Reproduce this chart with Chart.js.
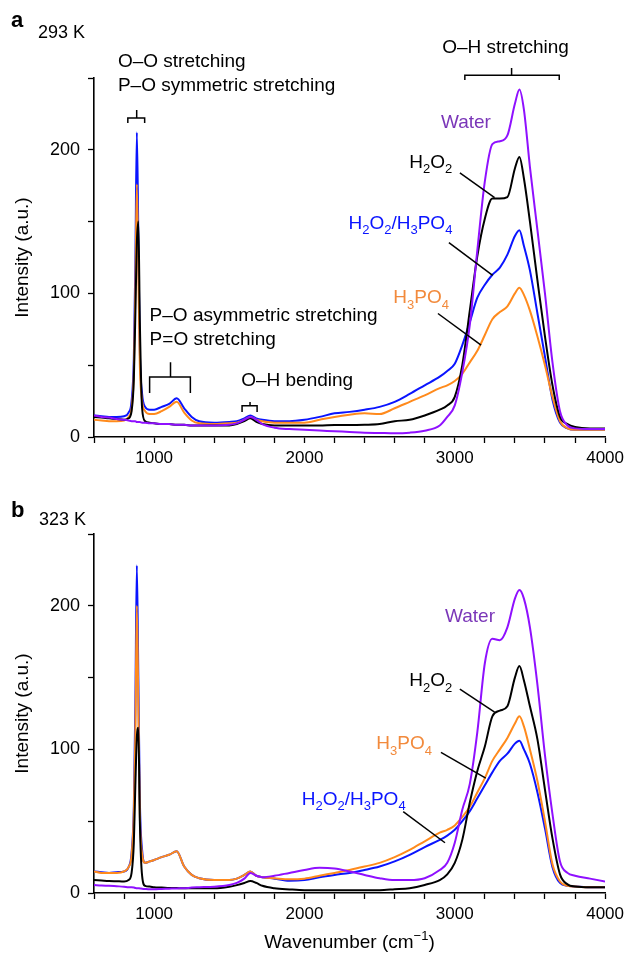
<!DOCTYPE html>
<html>
<head>
<meta charset="utf-8">
<script src="https://cdn.jsdelivr.net/npm/chart.js@4.4.0/dist/chart.umd.min.js"></script>
<style>
  html, body { margin: 0; padding: 0; background: #fff; }
  #wrap { position: relative; width: 629px; height: 955px; }
  .panel { position: absolute; left: 0; width: 629px; }
  #pa { top: 0; height: 480px; }
  #pb { top: 480px; height: 475px; }
</style>
</head>
<body>
<div id="wrap">
  <div class="panel" id="pa"><canvas id="ca"></canvas></div>
  <div class="panel" id="pb"><canvas id="cb"></canvas></div>
</div>
<script>
// wavenumber grid (cm-1), shared by every series
const wavenumber = [
  600, 650, 700, 750, 800, 830, 850, 865, 875, 885,
  895, 905, 920, 940, 970, 1000, 1050, 1100, 1150, 1200,
  1250, 1300, 1400, 1500, 1550, 1600, 1640, 1680, 1720, 1800,
  1900, 2000, 2100, 2200, 2300, 2400, 2500, 2600, 2700, 2800,
  2900, 2950, 3000, 3050, 3100, 3150, 3200, 3250, 3300, 3350,
  3400, 3430, 3460, 3500, 3550, 3600, 3650, 3700, 3750, 3800, 3900, 4000
];

// 293 K
const water293 = [
  15, 14, 13.5, 12.5, 12, 11.5, 11, 11, 11, 10.5,
  10.5, 10.5, 10, 10, 9.5, 9.5, 9, 9, 8.5, 8.5,
  8, 8, 8, 8.5, 9.5, 12, 14, 12, 9, 6.5,
  5.5, 5, 4.5, 4, 3.5, 3, 2.8, 2.6, 3, 4.4,
  8, 14, 22, 45, 78, 130, 178, 204, 206, 210,
  232, 242, 228, 188, 144, 100, 52, 18, 8, 6, 5.5, 5.5
];
const h2o2_293 = [
  14, 13.5, 13, 12.5, 12, 13, 18, 40, 85, 135,
  150, 80, 20, 11, 10, 9.5, 9, 9, 8.5, 8.5,
  8, 8, 8, 8, 9, 11, 13, 10.5, 9, 8,
  8, 8, 8, 8.3, 8.3, 8.5, 9, 11, 12, 15,
  19, 22, 28, 50, 88, 126, 152, 166, 166, 167,
  187, 195, 180, 150, 109, 70, 36, 14, 9, 7, 6, 6
];
const mix293 = [
  15, 14.5, 14, 14, 14.5, 17, 25, 55, 120, 212,
  140, 60, 30, 21, 19, 19, 21, 23, 27, 20,
  14, 11, 10, 10.5, 11, 13, 15, 13, 12, 11,
  11, 12, 14, 16.5, 17.5, 19, 21, 24.5, 30, 36,
  42, 46, 51, 64, 80, 97, 106, 113, 118, 127,
  140, 144, 133, 116, 86, 56, 26, 10, 6, 5, 5, 5
];
const h3po4_293 = [
  12, 11.5, 11, 11, 11.5, 14, 20, 45, 100, 176,
  115, 50, 25, 18, 16, 16, 18, 21, 24.5, 17,
  11.5, 9.5, 9, 9.5, 10, 12, 14, 12, 11, 10,
  10, 10, 12, 14, 15.5, 16.5, 16, 20, 24.5, 29,
  34, 36, 39, 44, 52, 60, 71, 82, 87, 91,
  100, 104, 99, 88, 70, 50, 28, 11, 6, 5, 5, 5
];

// 323 K
const water323 = [
  5.6, 5.2, 5, 4.7, 4.4, 4, 4, 3.8, 3.5, 3.3,
  3.3, 3.2, 3, 2.8, 2.6, 2.6, 2.8, 3, 3.2, 3.3,
  3.8, 4, 4.4, 5.6, 7, 10, 14, 12, 11, 12,
  14, 16, 17.5, 17, 15, 12.6, 10.3, 9, 9, 10.3,
  16, 21, 35, 58, 76, 112, 160, 177, 176, 185,
  205, 211, 205, 185, 145, 96, 55, 22, 14, 12, 10, 8
];
const h2o2_323 = [
  9, 8.7, 8.4, 8.2, 8, 9, 14, 35, 75, 108,
  115, 50, 12, 5, 4.5, 4, 3.8, 3.5, 3.4, 3.3,
  3.3, 3.3, 3.3, 4.4, 5.5, 7, 8.4, 7, 5, 3.3,
  2.5, 2, 2, 2, 2, 2, 2, 2.6, 3.3, 5.6,
  9, 13, 21, 37, 63, 85, 102, 123, 127, 130,
  150, 158, 148, 130, 107, 72, 38, 13, 6, 4.5, 4, 4
];
const mix323 = [
  15, 14.5, 14, 14.5, 15, 18, 28, 60, 130, 228,
  150, 65, 30, 21, 22, 23, 25, 26.6, 29, 18.4,
  12.6, 10.3, 9, 9, 10, 12.6, 15, 12, 11, 10,
  8.5, 9, 11, 12.6, 14, 16, 18.4, 22, 26.6, 32,
  37, 40, 44, 50, 57, 66, 75, 84, 92, 97,
  104, 106, 100, 90, 70, 45, 18, 7, 5, 4.5, 4, 4
];
const h3po4_323 = [
  15, 14, 14, 14, 15, 18, 26, 55, 110, 200,
  130, 55, 27, 21, 22, 23, 25, 26.6, 29, 18.4,
  12.6, 10.3, 9, 9, 10, 12.6, 15, 12, 11, 10.3,
  9.5, 10, 12, 14, 16, 18.4, 21, 25, 30, 36,
  42, 44, 47, 53, 60, 70, 80, 92, 100, 108,
  118, 123, 116, 100, 78, 50, 20, 8, 5, 4.5, 4, 4
];

const xTicks = [1000, 2000, 3000, 4000];
const yTicks = [0, 100, 200];

const FONT = "'Liberation Sans', Arial, Helvetica, sans-serif";
const C_WATER = '#8F10FF', C_WATER_LBL = '#7A36B8';
const C_H2O2 = '#000000';
const C_MIX = '#0A14FF';
const C_H3PO4 = '#FF8A1C', C_H3PO4_LBL = '#F28A3C';

Chart.defaults.font.family = FONT;
Chart.defaults.color = '#000';

// text with _x subscripts and ^{..} superscripts
function parts(str) {
  const out = [];
  const re = /_\{([^}]*)\}|\^\{([^}]*)\}|_(.)|\^(.)/g;
  let last = 0, m;
  while ((m = re.exec(str))) {
    if (m.index > last) out.push([str.slice(last, m.index), '']);
    if (m[1] !== undefined) out.push([m[1], 'sub']);
    else if (m[2] !== undefined) out.push([m[2], 'sup']);
    else if (m[3] !== undefined) out.push([m[3], 'sub']);
    else out.push([m[4], 'sup']);
    last = re.lastIndex;
  }
  if (last < str.length) out.push([str.slice(last), '']);
  return out;
}

function drawRich(ctx, str, x, y, size, color, align, weight) {
  const ps = parts(str);
  const fontOf = p => (weight || '') + ' ' + (p[1] ? Math.round(size * 0.7) : size) + 'px ' + FONT;
  let w = 0;
  ps.forEach(p => { ctx.font = fontOf(p); w += ctx.measureText(p[0]).width; });
  let cx = align === 'center' ? x - w / 2 : x;
  ctx.fillStyle = color || '#000';
  ctx.textBaseline = 'alphabetic';
  ctx.textAlign = 'left';
  ps.forEach(p => {
    ctx.font = fontOf(p);
    const dy = p[1] === 'sub' ? size * 0.28 : p[1] === 'sup' ? -size * 0.42 : 0;
    ctx.fillText(p[0], cx, y + dy);
    cx += ctx.measureText(p[0]).width;
  });
}

const notesPlugin = {
  id: 'notes',
  afterDraw(chart, args, o) {
    const { ctx, chartArea } = chart;
    const X = v => chart.scales.x.getPixelForValue(v);
    const Y = v => chart.scales.y.getPixelForValue(v);
    ctx.save();
    ctx.strokeStyle = '#000';
    ctx.lineWidth = 1.5;
    (o.braces || []).forEach(b => {
      ctx.beginPath();
      ctx.moveTo(X(b.from), Y(b.end));
      ctx.lineTo(X(b.from), Y(b.at));
      ctx.lineTo(X(b.to), Y(b.at));
      ctx.lineTo(X(b.to), Y(b.end));
      ctx.moveTo(X(b.mid), Y(b.at));
      ctx.lineTo(X(b.mid), Y(b.top));
      ctx.stroke();
    });
    (o.pointers || []).forEach(p => {
      ctx.beginPath();
      ctx.moveTo(X(p[0]), Y(p[1]));
      ctx.lineTo(X(p[2]), Y(p[3]));
      ctx.stroke();
    });
    (o.texts || []).forEach(t => drawRich(ctx, t.s, X(t.wn), Y(t.i), t.size || 19, t.color, t.align));
    (o.panel || []).forEach(t => drawRich(ctx, t.s, t.x, t.y, t.size, '#000', 'left', t.weight));
    if (o.xTitle) {
      drawRich(ctx, o.xTitle, (chartArea.left + chartArea.right) / 2, chartArea.bottom + 55, 19, '#000', 'center');
    }
    ctx.restore();
  }
};

function series(label, values, color) {
  return {
    label: label,
    data: wavenumber.map((w, i) => ({ x: w, y: values[i] })),
    borderColor: color,
    borderWidth: 2,
    pointRadius: 0,
    cubicInterpolationMode: 'monotone',
    fill: false
  };
}

function makeChart(id, datasets, notes, xHeight, padTop) {
  return new Chart(document.getElementById(id), {
    type: 'line',
    data: { datasets: datasets },
    plugins: [notesPlugin],
    options: {
      responsive: true,
      maintainAspectRatio: false,
      animation: false,
      layout: { padding: { top: padTop, right: 21, left: 0, bottom: 0 } },
      plugins: { legend: { display: false }, tooltip: { enabled: false }, notes: notes },
      scales: {
        x: {
          type: 'linear', min: 600, max: 4000,
          afterFit: s => { s.height = xHeight; },
          afterBuildTicks: s => { s.ticks = []; for (let v = 600; v <= 4000; v += 200) s.ticks.push({ value: v }); },
          ticks: {
            autoSkip: false, maxRotation: 0, padding: 5,
            font: { size: 17 }, color: '#000',
            callback: v => xTicks.includes(v) ? String(v) : ''
          },
          grid: { drawOnChartArea: false, drawTicks: true, tickLength: 6, color: '#000', tickWidth: 1.3 },
          border: { display: true, color: '#000', width: 1.6 }
        },
        y: {
          type: 'linear', min: 0, max: 250,
          afterFit: s => { s.width = 94; },
          afterBuildTicks: s => { s.ticks = []; for (let v = 0; v <= 250; v += 50) s.ticks.push({ value: v }); },
          ticks: {
            autoSkip: false, padding: 8,
            font: { size: 18 }, color: '#000',
            callback: v => yTicks.includes(v) ? String(v) : ''
          },
          title: { display: true, text: 'Intensity (a.u.)', font: { size: 19 }, color: '#000', padding: { top: 11, bottom: 0 } },
          grid: { drawOnChartArea: false, drawTicks: true, tickLength: 6, color: '#000', tickWidth: 1.3 },
          border: { display: true, color: '#000', width: 1.6 }
        }
      }
    }
  });
}

makeChart('ca', [
  series('Water', water293, C_WATER),
  series('H2O2', h2o2_293, C_H2O2),
  series('H3PO4', h3po4_293, C_H3PO4),
  series('H2O2/H3PO4', mix293, C_MIX)
], {
  panel: [
    { s: 'a', x: 11, y: 27, size: 22, weight: 'bold' },
    { s: '293 K', x: 38, y: 38, size: 18 }
  ],
  texts: [
    { s: 'O–O stretching', wn: 759, i: 258 },
    { s: 'P–O symmetric stretching', wn: 759, i: 241 },
    { s: 'P–O asymmetric stretching', wn: 970, i: 81 },
    { s: 'P=O stretching', wn: 970, i: 64 },
    { s: 'O–H bending', wn: 1579, i: 35.4 },
    { s: 'O–H stretching', wn: 3338, i: 267.4, align: 'center' },
    { s: 'Water', wn: 2908, i: 215.3, color: C_WATER_LBL },
    { s: 'H_2O_2', wn: 2697, i: 187.5 },
    { s: 'H_2O_2/H_3PO_4', wn: 2293, i: 145, color: C_MIX },
    { s: 'H_3PO_4', wn: 2591, i: 93, color: C_H3PO4_LBL }
  ],
  braces: [
    { from: 825, to: 937, mid: 884, at: 222.2, end: 218.7, top: 227.8 },
    { from: 970, to: 1241, mid: 1109, at: 41.7, end: 30.6, top: 52 },
    { from: 1585, to: 1685, mid: 1638, at: 21.7, end: 17.4, top: 24.3 },
    { from: 3067, to: 3695, mid: 3378, at: 252, end: 248.6, top: 257 }
  ],
  pointers: [
    [3034, 184, 3265, 166.7],
    [2961, 135.4, 3252, 112.5],
    [2888, 86, 3175, 64]
  ]
}, 43, 78);

makeChart('cb', [
  series('Water', water323, C_WATER),
  series('H2O2', h2o2_323, C_H2O2),
  series('H3PO4', h3po4_323, C_H3PO4),
  series('H2O2/H3PO4', mix323, C_MIX)
], {
  panel: [
    { s: 'b', x: 11, y: 37, size: 22, weight: 'bold' },
    { s: '323 K', x: 39, y: 45, size: 18 }
  ],
  texts: [
    { s: 'Water', wn: 2935, i: 188.8, color: C_WATER_LBL },
    { s: 'H_2O_2', wn: 2697, i: 144 },
    { s: 'H_3PO_4', wn: 2478, i: 100, color: C_H3PO4_LBL },
    { s: 'H_2O_2/H_3PO_4', wn: 1982, i: 61.5, color: C_MIX }
  ],
  pointers: [
    [3034, 142, 3265, 125.9],
    [2908, 97.9, 3206, 80],
    [2657, 56.6, 2935, 35]
  ],
  xTitle: 'Wavenumber (cm^{−1})'
}, 62, 54);
</script>
</body>
</html>
